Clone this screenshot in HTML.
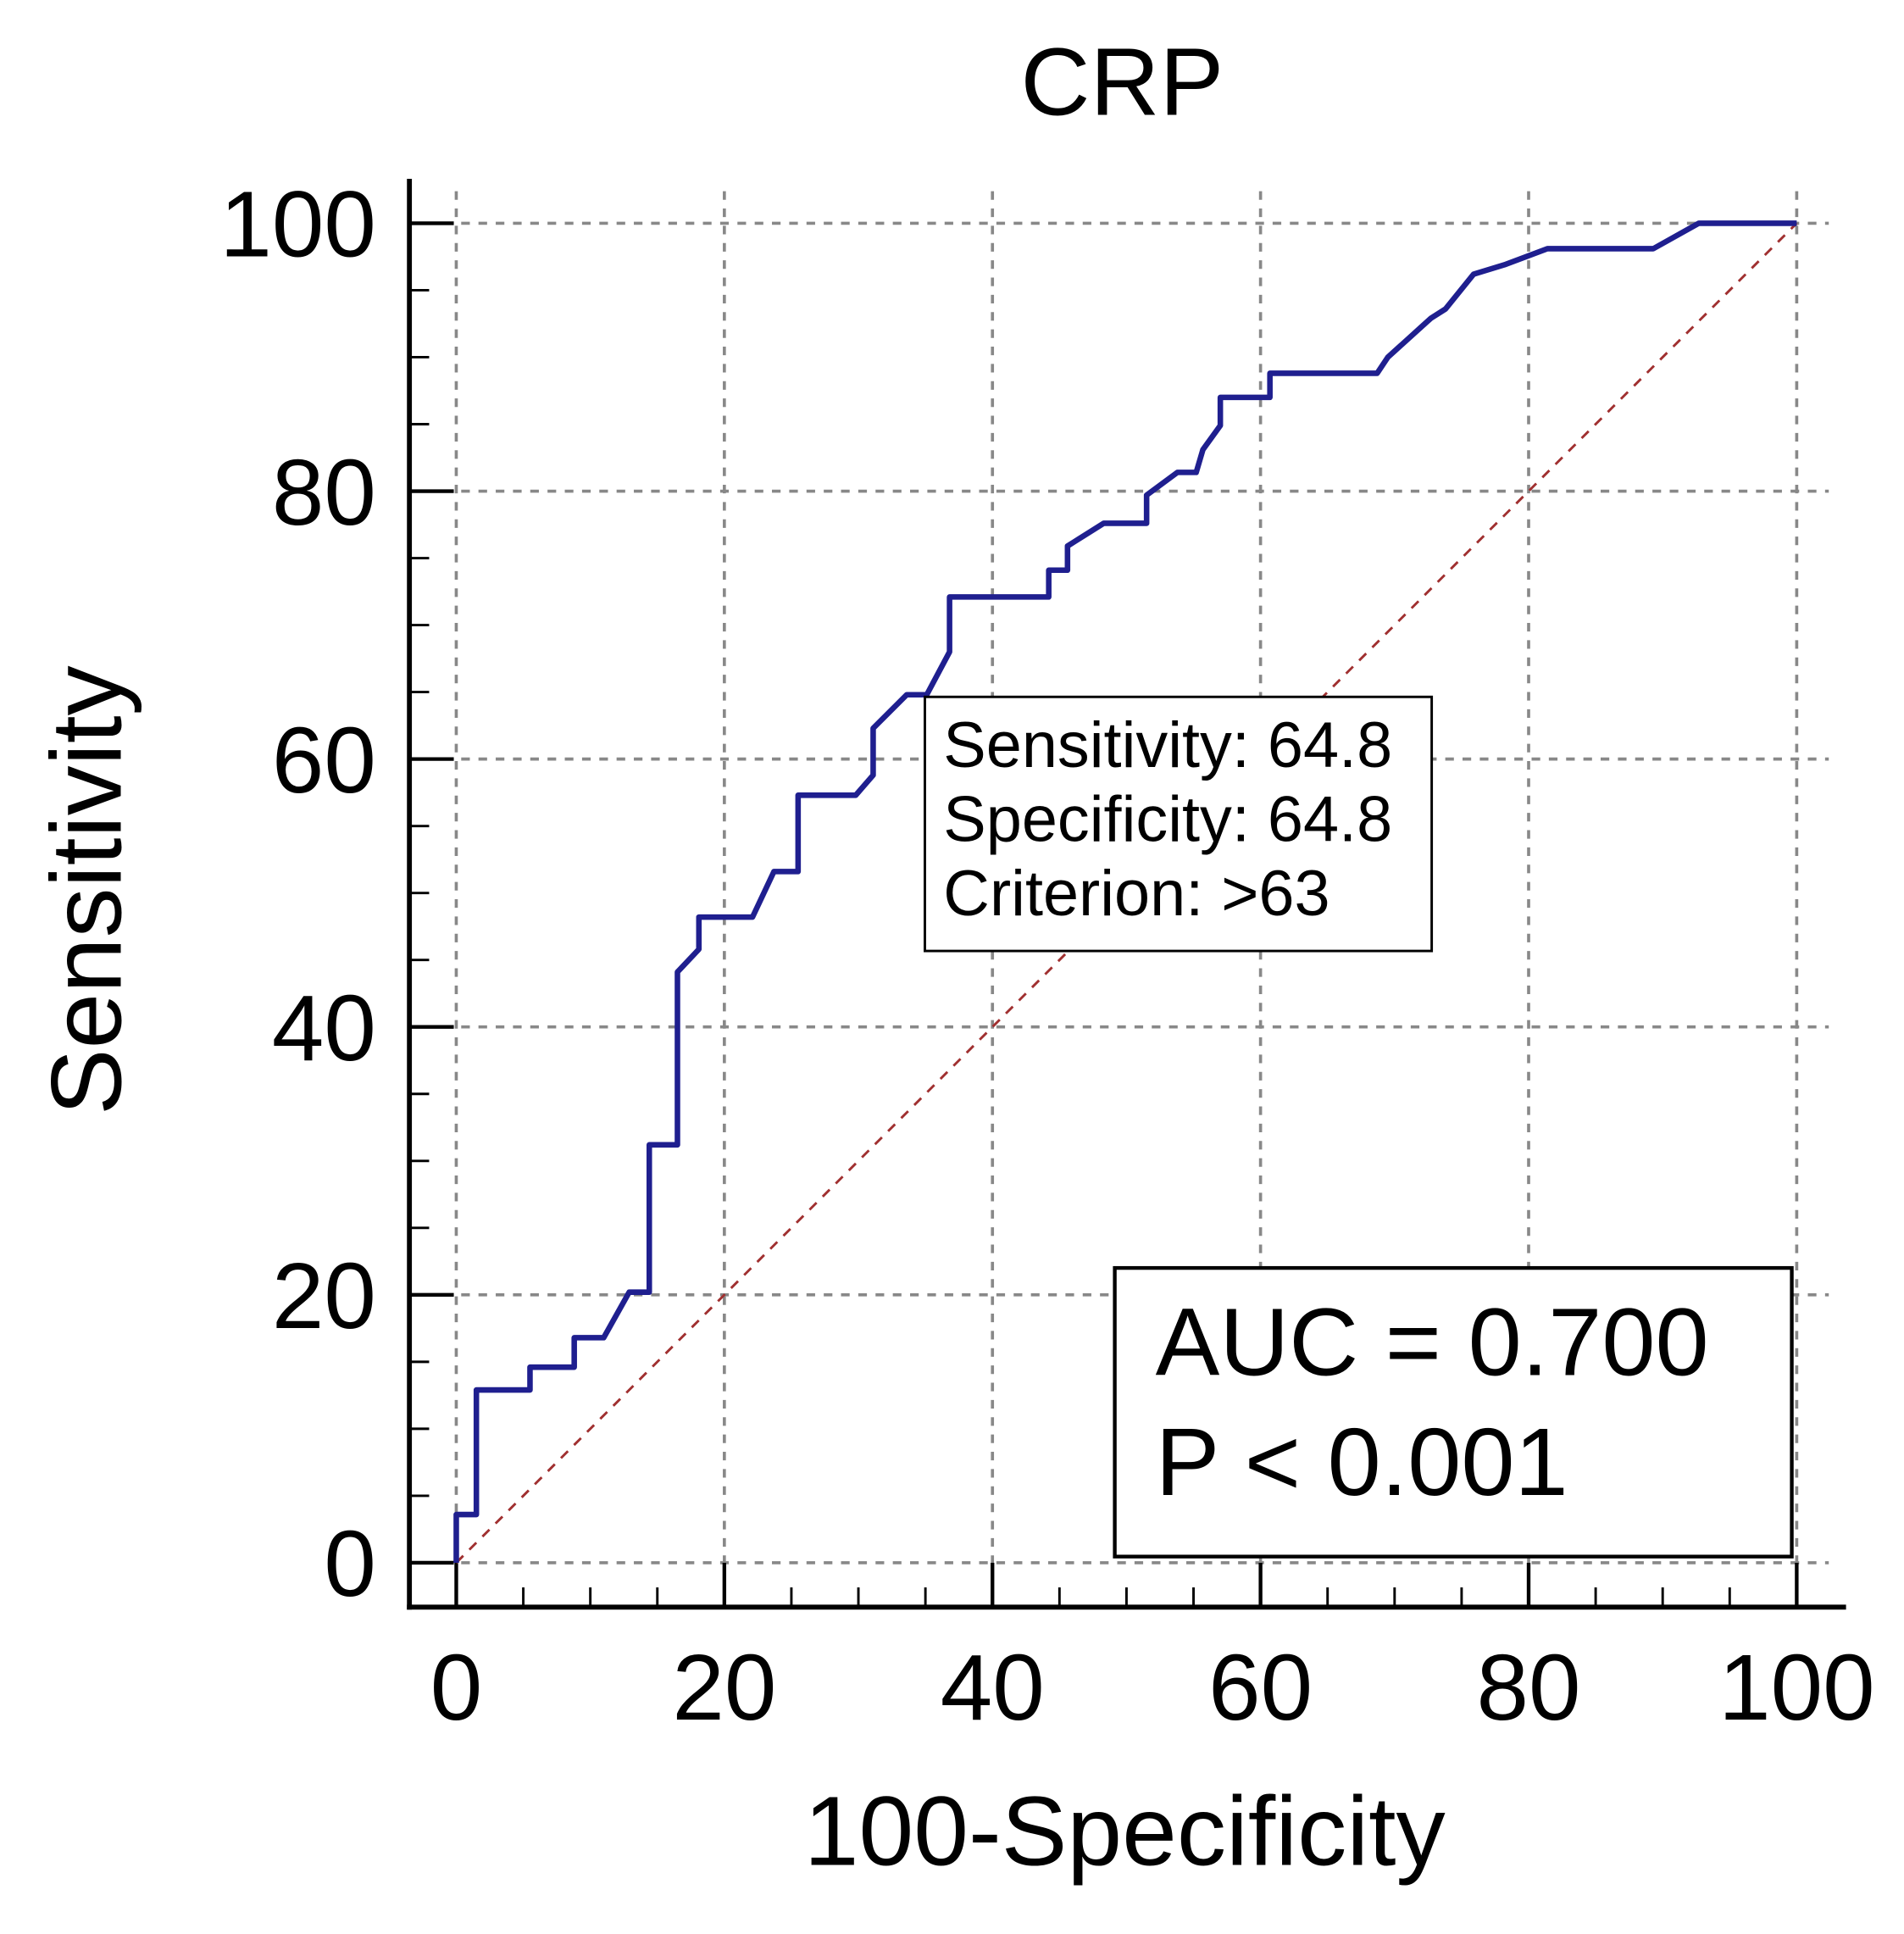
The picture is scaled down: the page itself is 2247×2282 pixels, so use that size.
<!DOCTYPE html>
<html><head><meta charset="utf-8"><style>html,body{margin:0;padding:0;background:#fff}svg{display:block}</style></head>
<body>
<svg id="chart" width="2247" height="2282" viewBox="0 0 1544 1568" preserveAspectRatio="none" xmlns="http://www.w3.org/2000/svg" font-family="'Liberation Sans', Arial, sans-serif">
<rect width="1544" height="1568" fill="#fff"/>
<text x="910" y="93" font-size="78" text-anchor="middle">CRP</text>
<text x="912" y="1512" font-size="80" text-anchor="middle">100-Specificity</text>
<text transform="translate(98,722) rotate(-90)" font-size="81" text-anchor="middle">Sensitivity</text>
<g id="grid"></g><g id="axes"></g><g id="marks"></g>
<g>
<rect x="750" y="565" width="411" height="206" fill="#fff" stroke="#000" stroke-width="2"/>
<text x="765" y="622" font-size="52">Sensitivity: 64.8</text>
<text x="765" y="682" font-size="52">Specificity: 64.8</text>
<text x="765" y="742" font-size="52">Criterion: &gt;63</text>
</g>
<g>
<rect x="904" y="1028" width="549" height="234" fill="#fff" stroke="#000" stroke-width="3"/>
<text x="937" y="1115" font-size="78">AUC = 0.700</text>
<text x="937" y="1212" font-size="78">P &lt; 0.001</text>
</g>
</svg>
<script>
const fpr=[0,0,1.5,1.5,5.5,5.5,8.8,8.8,11,12.9,14.4,14.4,16.5,16.5,18.1,18.1,22.1,23.7,25.5,25.5,29.8,31.1,31.1,33.6,35.1,36.8,36.8,44.2,44.2,45.6,45.6,48.3,51.5,51.5,53.8,55.2,55.7,57,57,60.7,60.7,68.7,69.5,72.7,73.8,75.9,78.2,81.4,89.3,92.7,100];
const tpr=[0,3.6,3.6,12.9,12.9,14.6,14.6,16.8,16.8,20.2,20.2,31.2,31.2,44.1,45.8,48.2,48.2,51.6,51.6,57.3,57.3,58.8,62.3,64.8,64.8,68,72.1,72.1,74.1,74.1,75.9,77.6,77.6,79.7,81.4,81.4,83.1,84.9,87,87,88.8,88.8,90,92.9,93.6,96.2,96.9,98.1,98.1,100,100];
const tickLabels=[0,20,40,60,80,100];
const NS="http://www.w3.org/2000/svg";
const X=v=>370+v*10.87, Y=v=>1267-v*10.86;
function mk(tag,attrs,parent){const e=document.createElementNS(NS,tag);for(const k in attrs)e.setAttribute(k,attrs[k]);document.getElementById(parent).appendChild(e);return e;}
tickLabels.forEach(t=>{
 let g=mk('line',{x1:X(t),x2:X(t),y1:155,y2:1303,stroke:'#888','stroke-width':2.5,'stroke-dasharray':'7,7'},'grid');
 
 
 g=mk('line',{x1:332,x2:1483,y1:Y(t),y2:Y(t),stroke:'#888','stroke-width':2.5,'stroke-dasharray':'7,7'},'grid');
 
 
 let tx=mk('text',{x:X(t),y:1394,'font-size':76,'text-anchor':'middle'},'axes');tx.textContent=t;
 
 
 tx=mk('text',{x:305,y:Y(t)+27,'font-size':76,'text-anchor':'end'},'axes');tx.textContent=t;
 
 
});
for(let v=0;v<=100;v+=5){const major=v%20===0;const L=major?36:16;
 let a=mk('line',{x1:X(v),x2:X(v),y1:1303,y2:1303-L,stroke:'#000','stroke-width':major?3:2},'axes');
 
 
 a=mk('line',{x1:332,x2:332+L,y1:Y(v),y2:Y(v),stroke:'#000','stroke-width':major?3:2},'axes');
 
 
}
let ax=mk('line',{x1:332,x2:332,y1:145,y2:1305,stroke:'#000','stroke-width':4},'axes');


ax=mk('line',{x1:330,x2:1497,y1:1303,y2:1303,stroke:'#000','stroke-width':4},'axes');


let d=mk('line',{x1:X(0),y1:Y(0),x2:X(100),y2:Y(100),stroke:'#a03030','stroke-width':2,'stroke-dasharray':'8,7'},'marks');


let p=mk('polyline',{points:fpr.map((f,i)=>X(f)+','+Y(tpr[i])).join(' '),fill:'none',stroke:'#1f1f8f','stroke-width':4.5,'stroke-linejoin':'round'},'marks');


</script>
</body></html>
